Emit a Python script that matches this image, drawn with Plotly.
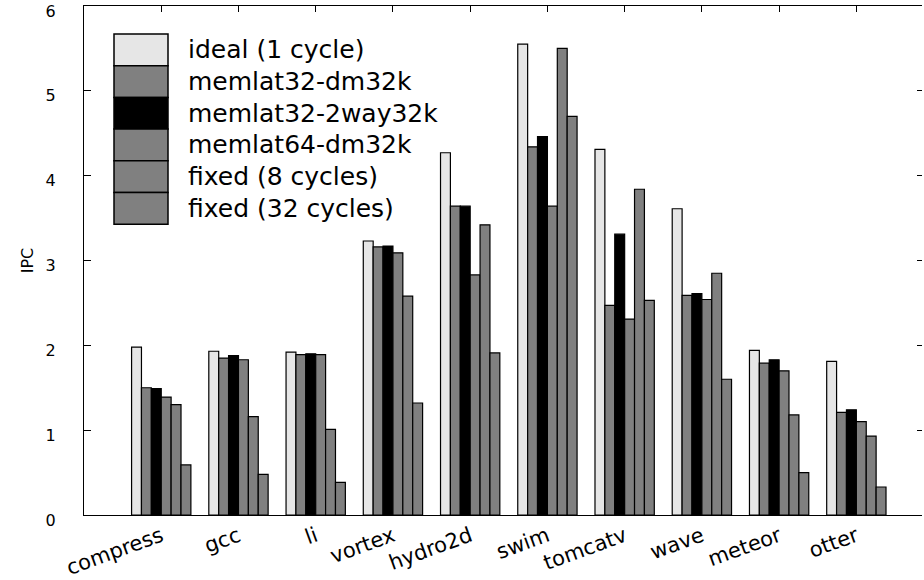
import plotly.graph_objects as go

categories = ["compress", "gcc", "li", "vortex", "hydro2d", "swim", "tomcatv", "wave", "meteor", "otter"]
series_names = ["ideal (1 cycle)", "memlat32-dm32k", "memlat32-2way32k", "memlat64-dm32k",
                "fixed (8 cycles)", "fixed (32 cycles)"]
ideal = [1.98, 1.93, 1.92, 3.23, 4.27, 5.55, 4.31, 3.61, 1.94, 1.81]
memlat32_dm32k = [1.50, 1.85, 1.89, 3.16, 3.64, 4.34, 2.47, 2.59, 1.79, 1.21]
memlat32_2way32k = [1.49, 1.88, 1.90, 3.17, 3.64, 4.46, 3.31, 2.61, 1.83, 1.24]
memlat64_dm32k = [1.39, 1.83, 1.89, 3.09, 2.83, 3.64, 2.31, 2.54, 1.70, 1.10]
fixed8 = [1.30, 1.16, 1.01, 2.58, 3.42, 5.50, 3.84, 2.85, 1.18, 0.93]
fixed32 = [0.59, 0.48, 0.385, 1.32, 1.91, 4.70, 2.53, 1.60, 0.50, 0.33]
series_values = [ideal, memlat32_dm32k, memlat32_2way32k, memlat64_dm32k, fixed8, fixed32]
colors = ["#e6e6e6", "#808080", "#000000", "#808080", "#808080", "#808080"]
y_ticks = [0, 1, 2, 3, 4, 5, 6]

W, H = 924, 580
ML, MR, MT, MB = 84, 2, 6, 65
PW = W - ML - MR
PH = H - MT - MB

fig = go.Figure()
idx = list(range(len(categories)))
for name, vals, col in zip(series_names, series_values, colors):
    fig.add_trace(go.Bar(x=idx, y=vals, name=name, marker=dict(color=col, line=dict(color="black", width=1.2)),
                         showlegend=False))

# dummy trace to activate secondary axes for mirrored ticks (right and top)
fig.add_trace(go.Scatter(x=[None], y=[None], xaxis="x2", yaxis="y2", showlegend=False, hoverinfo="skip"))

def px_x(p):
    return (p - ML) / PW

def px_y(p):
    return (H - MB - p) / PH

shapes = []
annotations = []
row_top = 34
row_h = 31.7
for i, (name, col) in enumerate(zip(series_names, colors)):
    y0 = row_top + i * row_h
    y1 = y0 + row_h
    shapes.append(dict(type="rect", xref="paper", yref="paper", x0=px_x(114), x1=px_x(168),
                       y0=px_y(y1), y1=px_y(y0), fillcolor=col, line=dict(color="black", width=1.5), layer="above"))
    annotations.append(dict(xref="paper", yref="paper", x=px_x(186), y=px_y((y0 + y1) / 2), text=name,
                            showarrow=False, xanchor="left", yanchor="middle",
                            font=dict(family="DejaVu Sans", size=25, color="black")))

fig.update_layout(
    width=W, height=H,
    margin=dict(l=ML, r=MR, t=MT, b=MB, autoexpand=False),
    plot_bgcolor="white", paper_bgcolor="white",
    barmode="group", bargap=0.232, bargroupgap=0,
    showlegend=False,
    shapes=shapes, annotations=annotations,
    xaxis=dict(range=[-1.0, 9.85], tickvals=idx, ticktext=categories, tickangle=-20,
               showline=True, linecolor="black", linewidth=1, mirror=True, automargin=False,
               showgrid=False, zeroline=False, ticks="",
               tickfont=dict(family="DejaVu Sans", size=21, color="black")),
    xaxis2=dict(range=[-1.0, 9.85], tickvals=idx, overlaying="x", side="top", showline=False,
                showgrid=False, zeroline=False, ticks="inside", ticklen=6, tickcolor="black",
                showticklabels=False, automargin=False),
    yaxis=dict(range=[0, 6], tickvals=y_ticks, showline=True, linecolor="black", linewidth=1,
               showgrid=False, zeroline=False, ticks="inside", ticklen=7, tickcolor="black",
               ticklabelstandoff=24, ticklabelshift=5, ticklabeloverflow="allow", automargin=False,
               tickfont=dict(family="DejaVu Sans", size=16, color="black"),
               title=dict(text="IPC", font=dict(family="DejaVu Sans", size=16, color="black"), standoff=8)),
    yaxis2=dict(range=[0, 6], tickvals=y_ticks, overlaying="y", side="right", showline=False,
                showgrid=False, zeroline=False, ticks="inside", ticklen=5, tickcolor="black",
                showticklabels=False, automargin=False),
)

fig.write_html("out.html")
